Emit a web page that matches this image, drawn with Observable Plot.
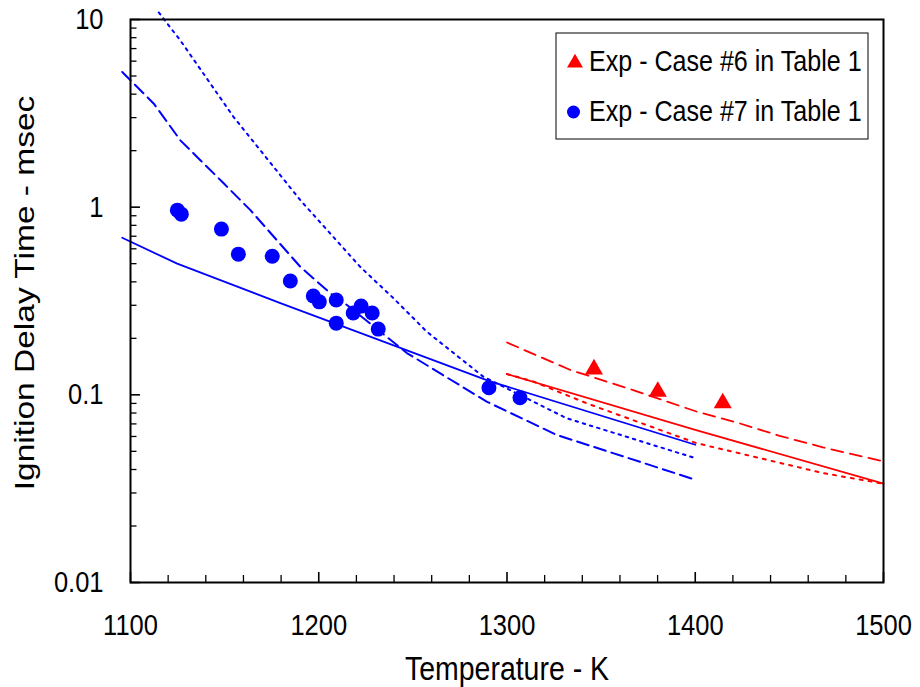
<!DOCTYPE html>
<html><head><meta charset="utf-8">
<script src="https://cdn.jsdelivr.net/npm/d3@7"></script>
<script src="https://cdn.jsdelivr.net/npm/@observablehq/plot@0.6"></script>
<style>body{margin:0;background:#fff;} #chart{width:920px;height:687px;}</style>
</head><body><div id="chart"></div>
<script>
// Experimental data
const expT6 = [1346.2, 1380.1, 1414.6];
const expTau6 = [0.137, 0.104, 0.0903];
const expT7 = [1124.9, 1127.0, 1148.3, 1157.3, 1175.3, 1184.9, 1197.1, 1200.3, 1209.3, 1209.3, 1218.3, 1222.5, 1228.4, 1231.6, 1290.4, 1306.9];
const expTau7 = [0.964, 0.918, 0.764, 0.562, 0.548, 0.404, 0.336, 0.313, 0.320, 0.241, 0.273, 0.297, 0.273, 0.224, 0.109, 0.0964];

// Model curves – case #7 (blue)
const blueSolidT = [1095.6, 1124.8, 1179.6, 1291.0, 1400.0];
const blueSolidTau = [0.687, 0.50, 0.308, 0.118, 0.0542];
const blueDashT = [1095.6, 1112.4, 1126.5, 1137.1, 1149.5, 1163.7, 1190.2, 1206.1, 1215.0, 1246.8, 1289.2, 1326.3, 1400.0];
const blueDashTau = [5.25, 3.56, 2.27, 1.78, 1.34, 0.964, 0.481, 0.348, 0.301, 0.167, 0.092, 0.0612, 0.0353];
const blueDotT = [1115.0, 1126.5, 1154.8, 1190.2, 1222.0, 1239.7, 1257.4, 1287.4, 1331.6, 1400.0];
const blueDotTau = [10.9, 7.73, 3.02, 1.09, 0.481, 0.327, 0.217, 0.125, 0.0751, 0.046];

// Model curves – case #6 (red)
const redSolidT = [1300, 1400, 1500];
const redSolidTau = [0.129, 0.0651, 0.0336];
const redDashT = [1300, 1333.4, 1367.0, 1400.6, 1421.9, 1444.8, 1467.8, 1500];
const redDashTau = [0.19, 0.136, 0.106, 0.0815, 0.0713, 0.0605, 0.0525, 0.0442];
const redDotT = [1300, 1313.8, 1342.0, 1400.6, 1467.8, 1500];
const redDotTau = [0.129, 0.118, 0.0904, 0.0553, 0.0383, 0.0336];

// Axis ticks
const xMajor = [1100, 1200, 1300, 1400, 1500];
const xMinor = [1120,1140,1160,1180,1220,1240,1260,1280,1320,1340,1360,1380,1420,1440,1460,1480];
const yMajor = [0.01, 0.1, 1, 10];
const yMinor = [0.02,0.03,0.04,0.05,0.06,0.07,0.08,0.09,0.2,0.3,0.4,0.5,0.6,0.7,0.8,0.9,2,3,4,5,6,7,8,9];
const yLabels = ["0.01", "0.1", "1", "10"];

const legendLabels = ["Exp - Case #6 in Table 1", "Exp - Case #7 in Table 1"];
const xTitle = "Temperature - K";
const yTitle = "Ignition Delay Time - msec";

const FONT = "'Liberation Sans', Arial, sans-serif";
const BLUE = "#0000ff", RED = "#ff0000";
const SQ = 0.85; // horizontal text squeeze of the original picture
const W = 920, H = 687, ML = 130, MR = 37, MT = 19, MB = 105;
const PW = W - ML - MR, PH = H - MT - MB;
const rows = (xs, ys) => xs.map((x, i) => ({T: x, tau: ys[i]}));

const chart = Plot.plot({
  width: W, height: H,
  marginLeft: ML, marginRight: MR, marginTop: MT, marginBottom: MB,
  style: {fontFamily: FONT, fontSize: "30px", color: "black", background: "white", overflow: "visible"},
  x: {domain: [1100, 1500]},
  y: {type: "log", domain: [0.01, 10]},
  marks: [
    Plot.axisX({ticks: xMajor, tickSize: 0, tickPadding: 31, tickFormat: d => String(d), label: null, fontSize: 30}),
    Plot.axisY({ticks: yMajor, tickSize: 0, tickPadding: 27, tickFormat: d => yLabels[yMajor.indexOf(d)], label: null, fontSize: 30}),
    // inward tick marks (full-frame ticks shortened with insets)
    Plot.tickX(xMinor, {x: d => d, insetTop: PH - 7, stroke: "black", strokeWidth: 1.3}),
    Plot.tickX(xMajor, {x: d => d, insetTop: PH - 10, stroke: "black", strokeWidth: 1.6}),
    Plot.tickY(yMinor, {y: d => d, insetRight: PW - 6.5, stroke: "black", strokeWidth: 1.3}),
    Plot.tickY(yMajor, {y: d => d, insetRight: PW - 10, stroke: "black", strokeWidth: 1.6}),
    Plot.line(rows(redSolidT, redSolidTau), {x: "T", y: "tau", stroke: RED, strokeWidth: 1.8}),
    Plot.line(rows(redDashT, redDashTau), {x: "T", y: "tau", stroke: RED, strokeWidth: 1.8, strokeDasharray: "12,7"}),
    Plot.line(rows(redDotT, redDotTau), {x: "T", y: "tau", stroke: RED, strokeWidth: 2, strokeDasharray: "3,6"}),
    Plot.line(rows(blueSolidT, blueSolidTau), {x: "T", y: "tau", stroke: BLUE, strokeWidth: 1.8}),
    Plot.line(rows(blueDashT, blueDashTau), {x: "T", y: "tau", stroke: BLUE, strokeWidth: 2, strokeDasharray: "12,6"}),
    Plot.line(rows(blueDotT, blueDotTau), {x: "T", y: "tau", stroke: BLUE, strokeWidth: 2, strokeDasharray: "2.5,5"}),
    Plot.dot(rows(expT7, expTau7), {x: "T", y: "tau", r: 7.5, fill: BLUE, stroke: "none"}),
    Plot.dot(rows(expT6, expTau6), {x: "T", y: "tau", r: 6.7, symbol: "triangle", fill: RED, stroke: "none"}),
    Plot.frame({stroke: "black", strokeWidth: 2})
  ]
});
document.getElementById("chart").appendChild(chart);

const svg = d3.select(chart);
// squeeze tick label text horizontally like the original
svg.selectAll("text").each(function() {
  const t = this.getAttribute("transform") || "";
  this.setAttribute("transform", t + ` scale(${SQ},1)`);
});

// Titles
svg.append("text").attr("transform", `translate(507,680) scale(${SQ},1)`).attr("text-anchor", "middle")
  .attr("font-family", FONT).attr("font-size", 33.5).attr("fill", "black").text(xTitle);
svg.append("text").attr("transform", `translate(34,293) scale(${SQ},1) rotate(-90)`).attr("text-anchor", "middle")
  .attr("font-family", FONT).attr("font-size", 33.5).attr("fill", "black").text(yTitle);

// Legend
const lg = svg.append("g");
lg.append("rect").attr("x", 556).attr("y", 33).attr("width", 312).attr("height", 106)
  .attr("fill", "white").attr("stroke", "black").attr("stroke-width", 1);
lg.append("path").attr("d", d3.symbol(d3.symbolTriangle, 110)()).attr("transform", "translate(575,63)").attr("fill", RED);
lg.append("circle").attr("cx", 573.5).attr("cy", 112).attr("r", 6.5).attr("fill", BLUE);
legendLabels.forEach((t, i) => {
  lg.append("text").attr("transform", `translate(589,${71 + i * 50}) scale(${SQ},1)`)
    .attr("text-anchor", "start").attr("font-family", FONT)
    .attr("font-size", 29.5).attr("fill", "black").text(t);
});
</script>
</body></html>
